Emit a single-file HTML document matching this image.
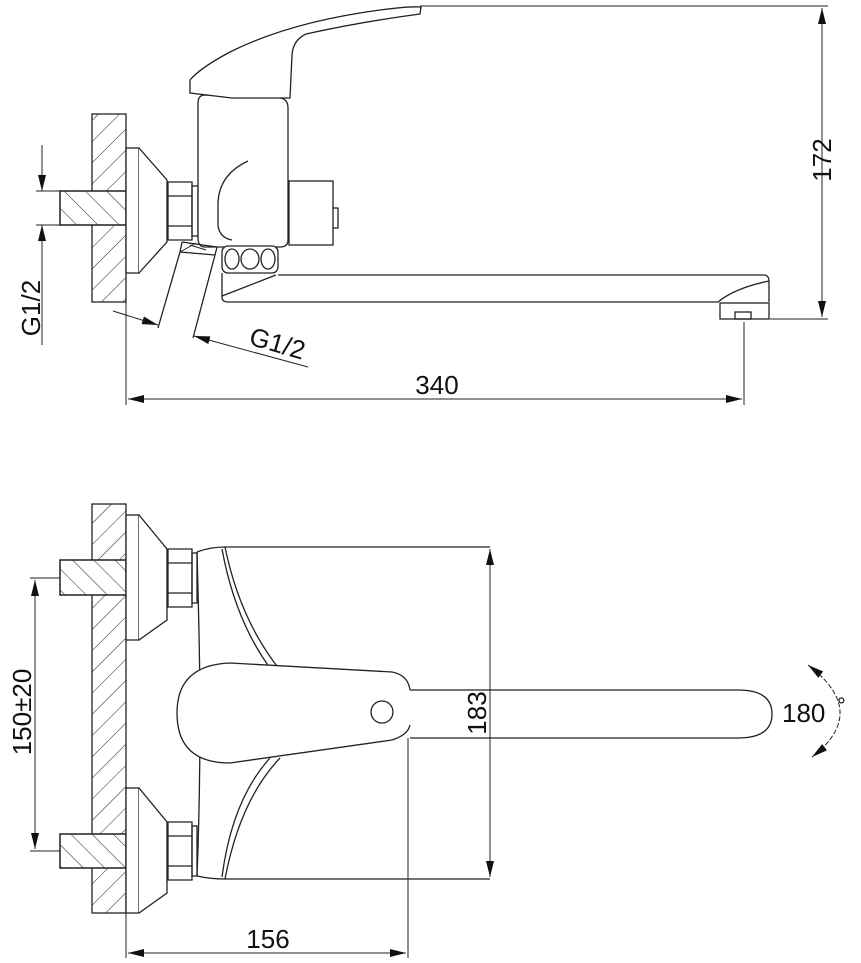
<!DOCTYPE html>
<html><head><meta charset="utf-8"><style>
html,body{margin:0;padding:0;background:#fff}
svg{display:block}
text{font-family:"Liberation Sans",Arial,sans-serif;fill:#111}
</style></head><body>
<svg width="861" height="963" viewBox="0 0 861 963" xmlns="http://www.w3.org/2000/svg">
<defs>
<pattern id="h" patternUnits="userSpaceOnUse" width="15" height="15" patternTransform="rotate(45)">
<line x1="0" y1="0" x2="0" y2="15" stroke="#222" stroke-width="1"/>
</pattern>
<pattern id="h2" patternUnits="userSpaceOnUse" width="15" height="15" patternTransform="rotate(-45)">
<line x1="0" y1="0" x2="0" y2="15" stroke="#222" stroke-width="1"/>
</pattern>
<marker id="a" markerWidth="16" markerHeight="8" refX="16" refY="4" orient="auto" markerUnits="userSpaceOnUse">
<path d="M0,0 L16,4 L0,8 Z" fill="#111"/>
</marker>
<marker id="as" markerWidth="16" markerHeight="8" refX="0" refY="4" orient="auto" markerUnits="userSpaceOnUse">
<path d="M16,0 L0,4 L16,8 Z" fill="#111"/>
</marker>
</defs>
<g fill="none" stroke="#222" stroke-width="1.3">
<rect x="92" y="114" width="34" height="188" fill="url(#h)"/>
<rect x="60" y="191" width="66" height="34" fill="#fff"/>
<rect x="60" y="191" width="66" height="34" fill="url(#h2)"/>
<rect x="126" y="148" width="13" height="125" fill="#fff"/>
<path d="M139,148 L167,180 L167,242 L139,273" fill="#fff"/>
<path d="M168,182 H192 V240 H168 Z M168,196 H192 M168,226 H192"/>
<rect x="192" y="186" width="6" height="50"/>
<path d="M198,103 Q198,95 205,95 L280,98 Q288,99 288,108 L288,240 Q288,247 280,247 L205,247 Q198,247 198,238 Z" fill="#fff"/>
<path d="M248,161 Q218,175 218,205 L218,226 Q220,238 232,240"/>
<path d="M190,80 Q200,68 230,52 Q290,22 380,10 Q410,6 421,7 L420,14 Q360,22 306,34 Q293,40 292,55 L290,98 L232,98 L190,93 Z" fill="#fff"/>
<rect x="289" y="181" width="44" height="64" fill="#fff"/>
<path d="M333,208 h5 v20 h-5"/>
<path d="M182,242 L217,247 L215,255 L193,338 M182,242 L180,252 L158,328 M180,252 L215,255" />
<path d="M190,245 L206,250 M180,252 L196,243" stroke-width="1"/>
<rect x="222" y="246" width="56" height="27" rx="6" fill="#fff"/>
<ellipse cx="232" cy="259" rx="7" ry="10"/><ellipse cx="250" cy="259" rx="9" ry="10"/><ellipse cx="268" cy="259" rx="7" ry="10"/>
<path d="M222,273 L222,297 Q222,302 228,302 L718,302"/>
<path d="M278,275 L765,275 Q769,276 769,281 L769,302"/>
<path d="M718,302 Q735,288 769,281"/>
<path d="M222,296 Q250,285 276,275"/>
<rect x="720" y="303" width="49" height="16"/>
<rect x="735" y="312" width="16" height="7"/>
<line x1="420" y1="6" x2="828" y2="6" stroke-width="1"/>
<line x1="770" y1="319" x2="828" y2="319" stroke-width="1"/>
<line x1="822" y1="8" x2="822" y2="317" stroke-width="1" marker-start="url(#as)" marker-end="url(#a)"/>
<line x1="126" y1="273" x2="126" y2="405" stroke-width="1"/>
<line x1="744" y1="322" x2="744" y2="405" stroke-width="1"/>
<line x1="128" y1="399" x2="742" y2="399" stroke-width="1" marker-start="url(#as)" marker-end="url(#a)"/>
<line x1="36" y1="191" x2="60" y2="191" stroke-width="1"/>
<line x1="36" y1="225" x2="60" y2="225" stroke-width="1"/>
<line x1="42" y1="145" x2="42" y2="191" stroke-width="1" marker-end="url(#a)"/>
<line x1="42" y1="345" x2="42" y2="225" stroke-width="1" marker-end="url(#a)"/>
<line x1="113" y1="311" x2="158" y2="325" stroke-width="1" marker-end="url(#a)"/>
<line x1="308" y1="367" x2="194" y2="336" stroke-width="1" marker-end="url(#a)"/>

<rect x="92" y="504" width="34" height="409" fill="url(#h)"/>
<rect x="60" y="560" width="66" height="35" fill="#fff"/>
<rect x="60" y="560" width="66" height="35" fill="url(#h2)"/>
<rect x="60" y="834" width="66" height="34" fill="#fff"/>
<rect x="60" y="834" width="66" height="34" fill="url(#h2)"/>
<rect x="126" y="515" width="13" height="125" fill="#fff"/>
<path d="M139,515 L167,549 L167,620 L139,640" fill="#fff"/>
<rect x="126" y="788" width="13" height="125" fill="#fff"/>
<path d="M139,788 L167,822 L167,893 L139,913" fill="#fff"/>
<path d="M168,549 H192 V607 H168 Z M168,563 H192 M168,593 H192"/>
<path d="M168,822 H192 V880 H168 Z M168,836 H192 M168,866 H192"/>
<rect x="192" y="553" width="5" height="50"/><rect x="192" y="826" width="5" height="50"/>
<path d="M197,552 Q210,547 225,547 L490,547 M197,876 Q210,879 225,879 L490,879"/>
<path d="M197,552 Q200,660 200,713 Q200,800 197,876"/>
<path d="M225,547 Q240,620 280,670 M222,549 Q235,620 270,668"/>
<path d="M225,879 Q240,800 280,758 M222,877 Q232,800 270,758"/>
<path d="M410,690 Q408,675 392,672 L230,663 Q177,665 177,713 Q177,763 230,763 L392,740 Q408,735 410,725" fill="#fff"/>
<circle cx="382" cy="712" r="11"/>
<path d="M410,690 L738,690 Q772,690 772,714 Q772,738 738,738 L410,738"/>
<line x1="490" y1="549" x2="490" y2="877" stroke-width="1" marker-start="url(#as)" marker-end="url(#a)"/>
<line x1="408" y1="738" x2="408" y2="958" stroke-width="1"/>
<line x1="126" y1="913" x2="126" y2="958" stroke-width="1"/>
<line x1="128" y1="953" x2="406" y2="953" stroke-width="1" marker-start="url(#as)" marker-end="url(#a)"/>
<line x1="30" y1="578" x2="60" y2="578" stroke-width="1"/>
<line x1="30" y1="851" x2="60" y2="851" stroke-width="1"/>
<line x1="35" y1="580" x2="35" y2="849" stroke-width="1" marker-start="url(#as)" marker-end="url(#a)"/>
<path d="M808,665 Q870,712 812,757" stroke-width="1" stroke-dasharray="5,2" marker-start="url(#as)" marker-end="url(#a)"/>
</g>
<text x="0" y="0" font-size="26" text-anchor="middle" transform="translate(831,160) rotate(-90)">172</text>
<text x="437" y="394" font-size="26" text-anchor="middle">340</text>
<text x="0" y="0" font-size="26" text-anchor="middle" transform="translate(40,308) rotate(-90)">G1/2</text>
<text x="0" y="0" font-size="26" text-anchor="middle" transform="translate(275,352) rotate(16)">G1/2</text>
<text x="0" y="0" font-size="26" text-anchor="middle" transform="translate(486,713) rotate(-90)">183</text>
<text x="0" y="0" font-size="26" text-anchor="middle" transform="translate(31,712) rotate(-90)">150±20</text>
<text x="268" y="948" font-size="26" text-anchor="middle">156</text>
<text x="782" y="722" font-size="26">180</text>
<text x="837" y="713" font-size="22">°</text>
</svg>
</body></html>
